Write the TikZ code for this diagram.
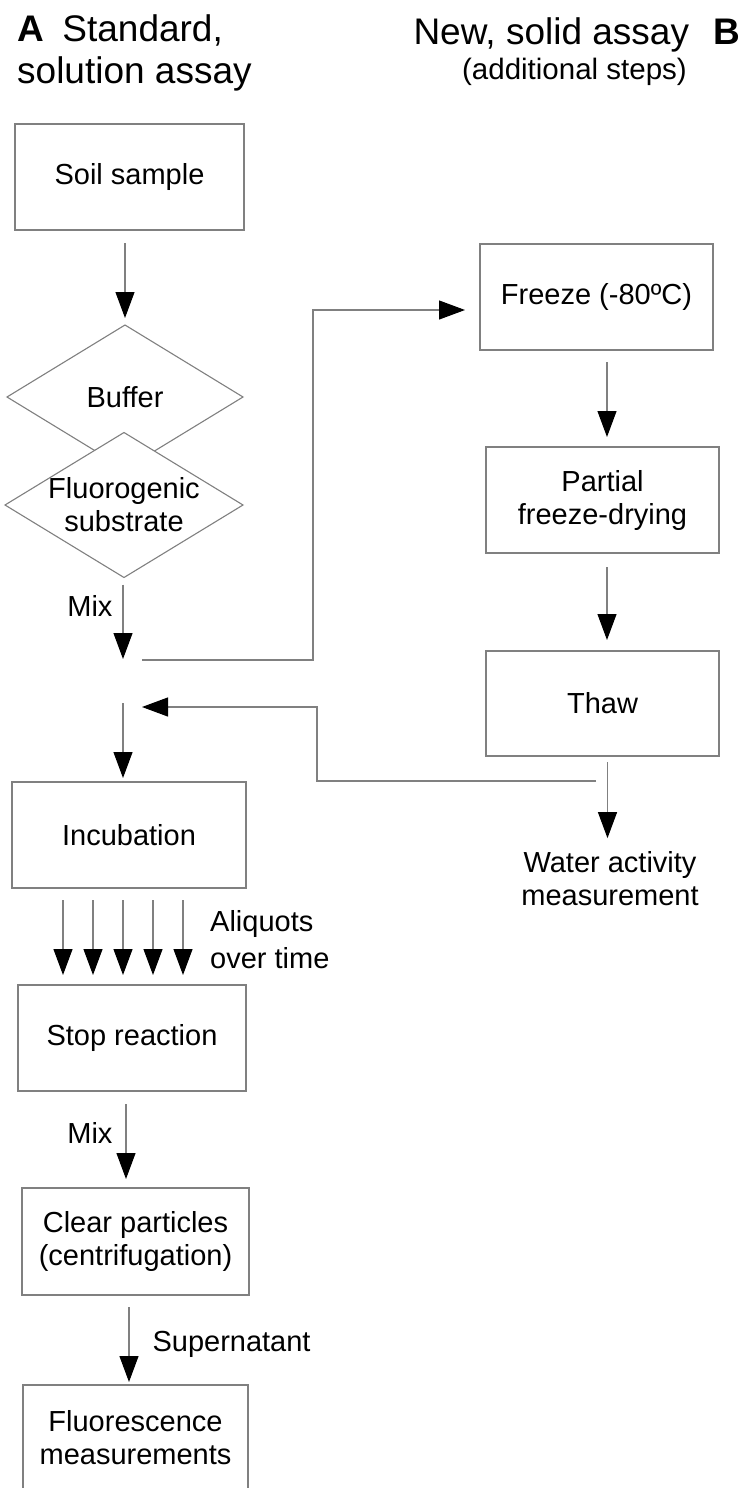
\documentclass[tikz,border=0pt]{standalone}
\usepackage{fontspec}
\setmainfont{Liberation Sans}
\usetikzlibrary{arrows.meta,shapes.geometric}
\definecolor{linegray}{RGB}{128,128,128}
\begin{document}
\begin{tikzpicture}[x=1pt,y=-1pt,
  box/.style={draw=linegray, line width=1.1pt, minimum height=106pt, inner sep=0pt, outer sep=0pt, align=center, font=\fontsize{29}{33}\selectfont},
  dia/.style={draw=linegray, line width=1.1pt, diamond, fill=white, inner sep=0pt, outer sep=0pt},
  lbl/.style={inner sep=0pt, align=center, font=\fontsize{29}{33}\selectfont},
  arr/.style={draw=linegray, line width=1.1pt, -{Triangle[width=19pt,length=26pt,color=black]}},
]
\useasboundingbox (0,0) rectangle (744,1488);
\clip (0,0) rectangle (744,1488);

% titles
\node[anchor=north west, inner sep=0pt, align=left, font=\fontsize{37}{42}\selectfont] (titleA) at (17,14) {\textbf{A}\hspace{0.5em}Standard,\\solution assay};
\node[anchor=north east, inner sep=0pt, align=right] (titleB) at (740,17.5) {\fontsize{37}{35}\selectfont New, solid assay\hspace{24pt}\textbf{B}\\[5pt] \fontsize{29.5}{35}\selectfont (additional steps)\hspace*{53pt}};

% left column
\node[box, minimum width=229pt] (soil) at (129.5,177) {Soil sample};
\node[dia, minimum width=236pt, minimum height=144pt, label={[lbl]center:Buffer}] (buffer) at (125,397) {};
\node[dia, minimum width=238pt, minimum height=145pt, label={[lbl]center:Fluorogenic\\substrate}] (fluoro) at (124,505) {};
\coordinate (mix) at (123,682);
\node[box, minimum width=234pt] (incub) at (129,835) {Incubation};
\node[box, minimum width=228pt] (stop) at (132,1038) {Stop reaction};
\node[box, minimum width=227pt, minimum height=107pt] (clear) at (135.5,1241.5) {Clear particles\\(centrifugation)};
\node[box, minimum width=225pt] (fluor) at (135.5,1438) {Fluorescence\\measurements};

% right column
\node[box, minimum width=233pt] (freeze) at (596.5,297) {Freeze (-80ºC)};
\node[box, minimum width=233pt] (partial) at (602.5,500) {Partial\\freeze-drying};
\node[box, minimum width=233pt, minimum height=105pt] (thaw) at (602.5,703.5) {Thaw};
\node[lbl] (water) at (610,878.5) {Water activity\\measurement};
\node[lbl, anchor=west, align=left, font=\fontsize{29}{37}\selectfont] (aliq) at (210,940) {Aliquots\\over time};

% connectors
\draw[arr] ([shift={(-4.5,13)}]soil.south) -- ([shift={(0,-7)}]buffer.north);
\draw[arr] ([shift={(-1,7)}]fluoro.south) -- node[lbl, anchor=east, pos=0.29, xshift=-10pt] {Mix} ([shift={(0,-23)}]mix);
\draw[arr] ([shift={(19,-22)}]mix) -| ([shift={(-167,13)}]freeze.west) -- ([shift={(-15,13)}]freeze.west);
\draw[arr] ([shift={(-6.5,25)}]thaw.south) -| ([shift={(194,25)}]mix) -- ([shift={(19,25)}]mix);
\draw[arr] ([shift={(0,21)}]mix) -- ([shift={(-6,-4)}]incub.north);
\foreach \a/\b in {-66/-69,-36/-39,-6/-9,24/21,54/51}
  \draw[arr] ([shift={(\a,12)}]incub.south) -- ([shift={(\b,-10)}]stop.north);
\draw[arr] ([shift={(-6,13)}]stop.south) -- node[lbl, anchor=east, pos=0.38, xshift=-13pt] {Mix} ([shift={(-9.5,-9)}]clear.north);
\draw[arr] ([shift={(-6.5,12)}]clear.south) -- node[lbl, anchor=west, pos=0.5, xshift=23pt] {Supernatant} ([shift={(-6.5,-3)}]fluor.north);

\draw[arr] ([shift={(10.5,12)}]freeze.south) -- ([shift={(4.5,-10)}]partial.north);
\draw[arr] ([shift={(4.5,14)}]partial.south) -- ([shift={(4.5,-11)}]thaw.north);
\draw[arr] ([shift={(5,6)}]thaw.south) -- ([shift={(-2.5,-13)}]water.north);
\end{tikzpicture}
\end{document}
